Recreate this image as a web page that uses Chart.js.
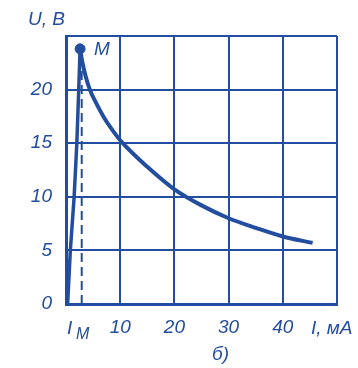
<!DOCTYPE html>
<html>
<head>
<meta charset="utf-8">
<script src="https://cdn.jsdelivr.net/npm/chart.js@4"></script>
<style>
  html, body { margin: 0; padding: 0; background: #fff; }
  #wrap { width: 358px; height: 368px; position: relative; }
</style>
</head>
<body>
<div id="wrap"><canvas id="chart"></canvas></div>
<script>
// data (I in mA, U in V)
const riseI = [0.3, 0.8, 1.5, 2.0, 2.35, 2.6];
const riseU = [0, 5, 10, 15, 20, 23.8];
const fallI = [2.6, 3.0, 3.6, 4.4, 5.5, 7, 8.6, 10.3, 15, 20, 25, 30, 35, 40, 45.5];
const fallU = [23.8, 22.6, 21.3, 20, 18.8, 17.4, 16.2, 15.1, 12.8, 10.7, 9.2, 8.0, 7.1, 6.3, 5.7];
const peakI = 2.6;
const peakU = 23.8;
const dashI = 2.9;
const xTicks = [0, 10, 20, 30, 40, 50];
const yTicks = [0, 5, 10, 15, 20, 25];

const blue = '#234d9e';
const font = "italic 19px 'Liberation Sans', sans-serif";

const toPts = (xs, ys) => xs.map((x, i) => ({ x: x, y: ys[i] }));

// extra labels: U, B / I_M / I, мА / б) / M
const labels = {
  id: 'labels',
  afterDraw(chart) {
    const c = chart.ctx;
    const xs = chart.scales.x, ys = chart.scales.y;
    c.save();
    c.fillStyle = blue;
    c.font = font;
    c.textBaseline = 'alphabetic';
    c.textAlign = 'left';
    c.fillText('U, B', 28, 25);
    c.fillText('M', xs.getPixelForValue(peakI) + 14, ys.getPixelForValue(peakU) + 6);
    const ty = 334;
    c.fillText('I', 67, ty);
    c.font = "italic 16px 'Liberation Sans', sans-serif";
    c.fillText('M', 76, ty + 5);
    c.font = font;
    c.fillText('I, мА', 311, ty);
    c.fillText('б)', 212, 360);
    c.restore();
  }
};

new Chart(document.getElementById('chart'), {
  type: 'scatter',
  data: {
    datasets: [
      {
        data: toPts(riseI, riseU),
        showLine: true, borderColor: blue, borderWidth: 3.5,
        pointRadius: 0, tension: 0
      },
      {
        data: toPts(fallI, fallU),
        showLine: true, borderColor: blue, borderWidth: 4,
        pointRadius: 0, cubicInterpolationMode: 'monotone'
      },
      {
        data: toPts([dashI, dashI], [0, peakU - 1]),
        showLine: true, borderColor: blue, borderWidth: 2,
        borderDash: [9, 5], pointRadius: 0
      },
      {
        data: [{ x: peakI, y: peakU }],
        pointRadius: 5, backgroundColor: blue, borderColor: blue
      }
    ]
  },
  options: {
    responsive: true,
    maintainAspectRatio: false,
    animation: false,
    layout: { padding: { top: 36, right: 21, left: 0, bottom: 0 } },
    plugins: { legend: { display: false }, tooltip: { enabled: false } },
    scales: {
      x: {
        type: 'linear', min: 0, max: 50,
        afterBuildTicks: (s) => { s.ticks = xTicks.map(v => ({ value: v })); },
        afterFit: (s) => { s.height = 64; },
        grid: { color: blue, lineWidth: 2, drawTicks: false },
        border: { color: blue, width: 3 },
        ticks: {
          color: blue, font: { family: "'Liberation Sans'", size: 19, style: 'italic' },
          padding: 12, maxRotation: 0,
          callback: (v) => (v === 0 || v === 50) ? '' : v
        }
      },
      y: {
        type: 'linear', min: 0, max: 25,
        afterBuildTicks: (s) => { s.ticks = yTicks.map(v => ({ value: v })); },
        afterFit: (s) => { s.width = 66; },
        grid: { color: blue, lineWidth: 2, drawTicks: false },
        border: { color: blue, width: 3 },
        ticks: {
          color: blue, font: { family: "'Liberation Sans'", size: 19, style: 'italic' },
          padding: 14,
          callback: (v) => v === 25 ? '' : v
        }
      }
    }
  },
  plugins: [labels]
});
</script>
</body>
</html>
